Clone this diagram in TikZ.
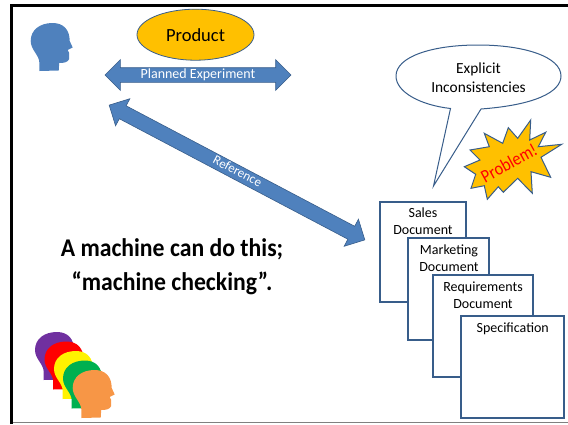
\documentclass[tikz,border=0pt]{standalone}
\usepackage{fontspec}
\setmainfont{Carlito}
\usetikzlibrary{shapes.arrows,shapes.geometric}
\definecolor{shapeblue}{HTML}{4F81BD}
\definecolor{edgeblue}{HTML}{385D8A}
\definecolor{gold}{HTML}{FFC000}
\tikzset{
  blockarrow/.style = {double arrow, fill=shapeblue, draw=edgeblue, line width=0.6pt, text=white, font=\fontsize{14}{14}\selectfont, inner sep=1pt, text height=9pt, text depth=3pt, double arrow head extend=8pt, minimum width=30pt},
  docbox/.style = {draw=edgeblue, line width=1.6pt, fill=white},
  doctext/.style = {anchor=north, align=center, font=\fontsize{14}{17}\selectfont, inner sep=0pt},
  head/.pic = {\path[pic actions] (8.7,48) -- (28,47.5) -- (28.5,40) .. controls (33,40) and (37,39.5) .. (38.5,36) -- (38.5,30) -- (37,27) -- (42,24.5) -- (39,18) .. controls (39,7) and (33,0) .. (22,0) .. controls (9,0) and (0,7) .. (0,18) .. controls (0,27) and (8.7,32) .. (8.7,40) -- cycle;}
}
\begin{document}
\begin{tikzpicture}[x=1pt, y=-1pt]
\useasboundingbox (0,0) rectangle (568,424);
\draw[gray, line width=1pt] (12,422.7) -- (568,422.7);
\draw[line width=2.5pt] (11.5,424) -- (11.5,5.3) -- (568,5.3);
% people
\pic[fill=shapeblue] at (30.7,23) {head};
\pic[fill={rgb,255:red,112;green,48;blue,160}] at (35,332) {head};
\pic[fill=red] at (44.5,341.5) {head};
\pic[fill=yellow] at (54,351) {head};
\pic[fill={rgb,255:red,0;green,176;blue,80}] at (63,360.5) {head};
\pic[fill={rgb,255:red,247;green,150;blue,70}] at (72.7,370) {head};
% product and arrows
\node[ellipse, fill=gold, draw=edgeblue, line width=0.8pt, minimum width=117pt, minimum height=51pt, inner sep=0pt, font=\fontsize{18.5}{18.5}\selectfont] (product) at (195.5,34.7) {Product};
\node[blockarrow, minimum height=186pt] (planned) at (198,75) {Planned Experiment};
\node[blockarrow, minimum height=289pt, rotate=-27.8, font=\fontsize{13}{13}\selectfont] (reference) at (237,172.5) {Reference};
% documents
\draw[docbox] (380,202) rectangle (466,302);
\node[doctext] (sales) at (423,207.5) {Sales\\Document};
\draw[docbox] (408,238) rectangle (489,340);
\node[doctext] (marketing) at (449,244.5) {Marketing\\Document};
\draw[docbox] (433,275) rectangle (532.7,377);
\node[doctext] (requirements) at (483,281.5) {Requirements\\Document};
\draw[docbox] (461,316) rectangle (564,418);
\node[doctext] (specification) at (512.7,322.5) {Specification};
% callout
\draw[edgeblue, line width=1pt, fill=white] (450.5,108.5) -- (433.5,186) -- (481,109) .. controls (535,105) and (561,92) .. (561,76) .. controls (561,57) and (525,45) .. (478,45) .. controls (431,45) and (396,57) .. (396,76) .. controls (396,92) and (420,105) .. cycle;
\node[align=center, font=\fontsize{15.4}{19}\selectfont] (explicit) at (478.5,77.5) {Explicit\\Inconsistencies};
% star
\draw[edgeblue, line width=1pt, fill=gold] (530.7,120) -- (529.7,140) -- (545.7,132.3) -- (538.3,146.7) -- (561.7,144.3) -- (541,157.3) -- (550.7,177.3) -- (531,171.7) -- (532.3,193.3) -- (517.7,178.3) -- (503.3,192.3) -- (498.3,186.7) -- (487.3,199.3) -- (484.3,185.7) -- (471,188.3) -- (475.7,174.3) -- (464.3,166.7) -- (480,160) -- (470,150) -- (489.3,146.7) -- (484.3,133.3) -- (502.7,143.3) -- (508.3,127.7) -- (517.7,138.3) -- cycle;
\node[text=red, rotate=28.6, xscale=0.88, font=\fontsize{18.5}{18.5}\selectfont, inner sep=0pt] (problem) at (509,163) {Problem!};
% remark
\node[align=center, xscale=0.93, font=\fontsize{25.5}{34}\selectfont\bfseries] (remark) at (172,266.5) {A machine can do this;\\``machine checking''.};
\end{tikzpicture}
\end{document}
